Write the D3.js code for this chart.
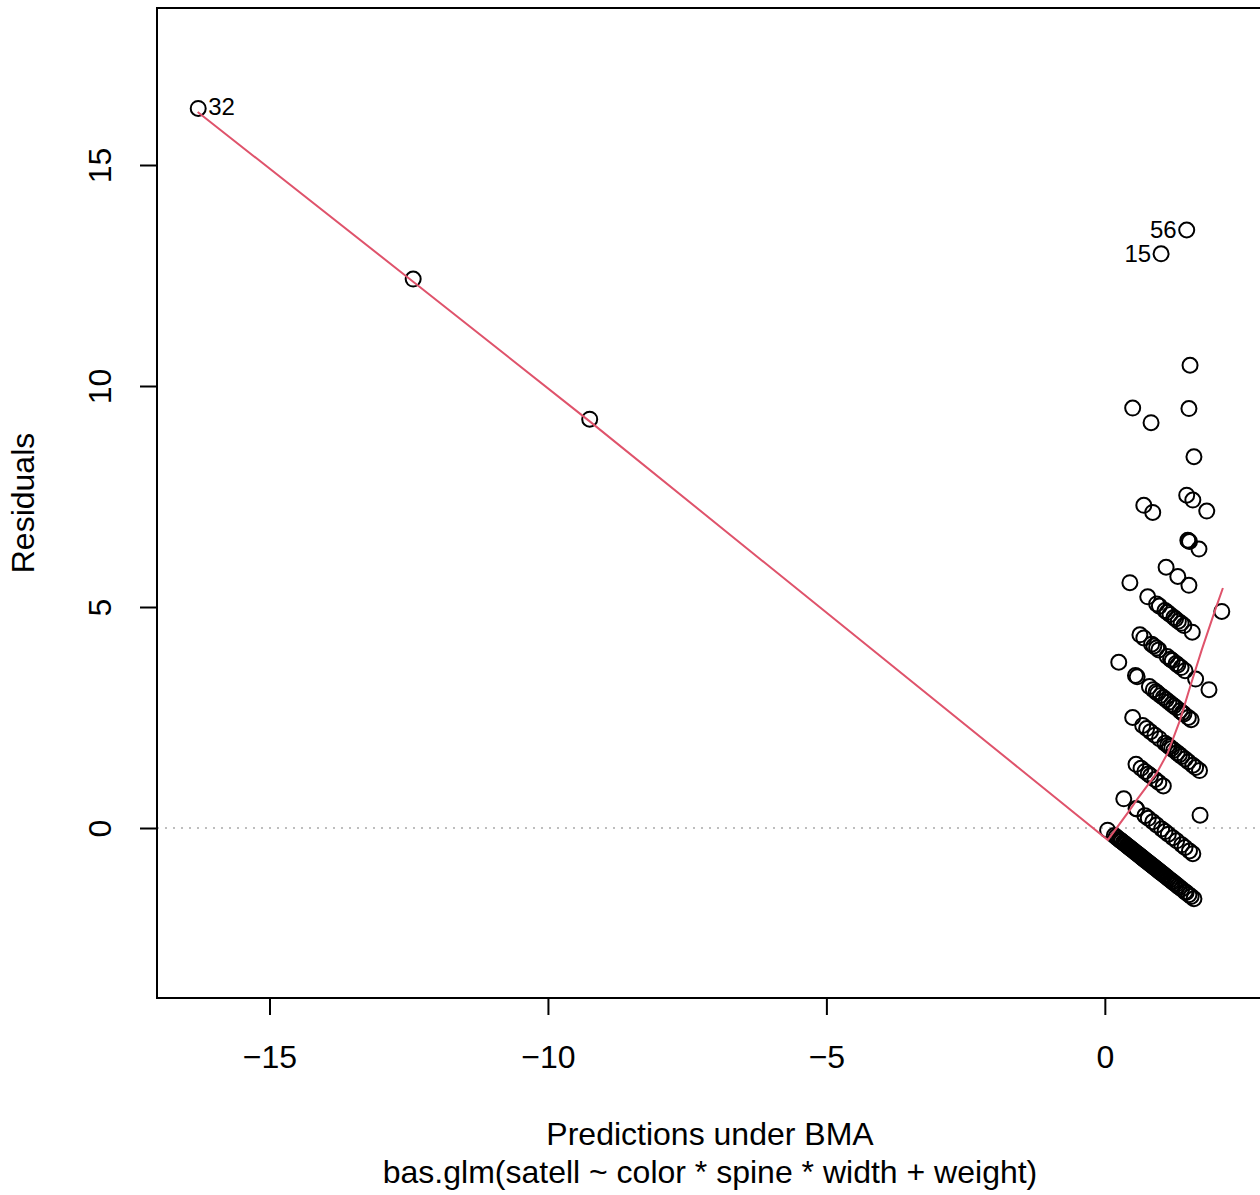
<!DOCTYPE html>
<html><head><meta charset="utf-8">
<script src="https://cdn.jsdelivr.net/npm/d3@7"></script>
<style>body{margin:0;background:#fff}svg{display:block}text{font-family:"Liberation Sans",Arial,sans-serif}</style>
</head><body>
<svg id="c" width="1260" height="1195"></svg>
<script>
// Predictions under BMA (x) and residuals (y)
const predictions = [
 -16.28, -12.42, -9.25,
 1.47, 1.01, 1.53, 1.51,
 0.50, 0.83, 1.60,
 1.47, 1.58, 1.83,
 0.70, 0.86, 1.49, 1.52, 1.50, 1.69,
 1.10, 1.31, 1.51, 2.10,
 0.45, 0.77, 0.93, 0.98, 1.08, 1.12, 1.17, 1.24, 1.27, 1.32, 1.37, 1.42, 1.57,
 0.63, 0.70, 0.84, 0.88, 0.93, 0.97, 1.12, 1.18, 1.21, 1.28, 1.31, 1.37, 1.44, 1.63, 1.87,
 0.25, 0.55, 0.58, 0.80, 0.87, 0.92, 0.95, 1.00, 1.05, 1.10, 1.15, 1.20, 1.24, 1.28, 1.35, 1.39, 1.42, 1.50, 1.55,
 0.50, 0.68, 0.75, 0.82, 0.90, 0.98, 1.08, 1.13, 1.16, 1.20, 1.24, 1.30, 1.34, 1.38, 1.44, 1.50, 1.58, 1.63, 1.70,
 0.56, 0.65, 0.72, 0.78, 0.82, 0.90, 0.97, 1.05, 1.71,
 0.34, 0.56, 0.57, 0.72, 0.78, 0.86, 0.93, 1.02, 1.08, 1.14, 1.22, 1.29, 1.38, 1.44, 1.52, 1.58,
 0.05, 0.17, 0.20, 0.23, 0.26, 0.28, 0.30, 0.33, 0.35, 0.37,
 0.40, 0.42, 0.44, 0.46, 0.48, 0.50, 0.52, 0.55, 0.57, 0.59,
 0.61, 0.63, 0.65, 0.67, 0.69, 0.71, 0.73, 0.75, 0.77, 0.79,
 0.81, 0.83, 0.85, 0.87, 0.89, 0.91, 0.93, 0.95, 0.97, 0.99,
 1.01, 1.03, 1.06, 1.08, 1.11, 1.14, 1.17, 1.20, 1.22, 1.25,
 1.28, 1.31, 1.34, 1.38, 1.44, 1.46, 1.51, 1.55, 1.60
];
const residuals = [
 16.28, 12.42, 9.25,
 13.53, 12.99, 10.47, 9.49,
 9.50, 9.17, 8.40,
 7.53, 7.42, 7.17,
 7.30, 7.14, 6.51, 6.48, 6.50, 6.31,
 5.90, 5.69, 5.49, 4.90,
 5.55, 5.23, 5.07, 5.02, 4.92, 4.88, 4.83, 4.76, 4.73, 4.68, 4.63, 4.58, 4.43,
 4.37, 4.30, 4.16, 4.12, 4.07, 4.03, 3.88, 3.82, 3.79, 3.72, 3.69, 3.63, 3.56, 3.37, 3.13,
 3.75, 3.45, 3.42, 3.20, 3.13, 3.08, 3.05, 3.00, 2.95, 2.90, 2.85, 2.80, 2.76, 2.72, 2.65, 2.61, 2.58, 2.50, 2.45,
 2.50, 2.32, 2.25, 2.18, 2.10, 2.02, 1.92, 1.87, 1.84, 1.80, 1.76, 1.70, 1.66, 1.62, 1.56, 1.50, 1.42, 1.37, 1.30,
 1.44, 1.35, 1.28, 1.22, 1.18, 1.10, 1.03, 0.95, 0.29,
 0.66, 0.44, 0.43, 0.28, 0.22, 0.14, 0.07, -0.02, -0.08, -0.14, -0.22, -0.29, -0.38, -0.44, -0.52, -0.58,
 -0.05, -0.17, -0.20, -0.23, -0.26, -0.28, -0.30, -0.33, -0.35, -0.37,
 -0.40, -0.42, -0.44, -0.46, -0.48, -0.50, -0.52, -0.55, -0.57, -0.59,
 -0.61, -0.63, -0.65, -0.67, -0.69, -0.71, -0.73, -0.75, -0.77, -0.79,
 -0.81, -0.83, -0.85, -0.87, -0.89, -0.91, -0.93, -0.95, -0.97, -0.99,
 -1.01, -1.03, -1.06, -1.08, -1.11, -1.14, -1.17, -1.20, -1.22, -1.25,
 -1.28, -1.31, -1.34, -1.38, -1.44, -1.46, -1.51, -1.55, -1.60
];
// labelled observations: [index into arrays, label, side]
const labelIds = [0, 3, 4];
const labelTexts = ["32", "56", "15"];
const labelSides = ["right", "left", "left"];
// smoothed (lowess) curve
const smoothX = [-16.29, -12.42, -9.25, 0.054, 0.45, 0.57, 0.93, 1.13, 1.35, 1.53, 1.74, 1.98, 2.12];
const smoothY = [16.2, 12.36, 9.2, -0.27, 0.41, 0.63, 1.24, 1.70, 2.44, 3.19, 4.03, 4.93, 5.43];
const xTicks = [-15, -10, -5, 0];
const yTicks = [0, 5, 10, 15];
const xTitle = "Predictions under BMA";
const subTitle = "bas.glm(satell ~ color * spine * width + weight)";
const yTitle = "Residuals";

const svg = d3.select("#c");
const L = 157, R = 1263, T = 8, B = 998;
const x = d3.scaleLinear().domain([-17.02, 2.84]).range([L, R]);
const y = d3.scaleLinear().domain([-3.846, 18.552]).range([B, T]);
const FS = 32;

// zero reference line
svg.append("line").attr("x1", L).attr("x2", R).attr("y1", y(0)).attr("y2", y(0))
  .attr("stroke", "#bebebe").attr("stroke-width", 2).attr("stroke-dasharray", "2,6");

// points
const pts = predictions.map((p, i) => [p, residuals[i]]);
svg.append("g").selectAll("circle").data(pts).join("circle")
  .attr("cx", d => x(d[0])).attr("cy", d => y(d[1])).attr("r", 7.5)
  .attr("fill", "none").attr("stroke", "#000").attr("stroke-width", 2);

// smooth line
const sm = smoothX.map((v, i) => [v, smoothY[i]]);
svg.append("path").datum(sm)
  .attr("d", d3.line().x(d => x(d[0])).y(d => y(d[1])))
  .attr("fill", "none").attr("stroke", "#DF536B").attr("stroke-width", 2);

// labels
labelIds.forEach((id, k) => {
  const px = x(predictions[id]), py = y(residuals[id]);
  svg.append("text").attr("x", labelSides[k] === "right" ? px + 10 : px - 10)
    .attr("y", py - (labelSides[k] === "right" ? 2 : 0)).attr("dy", "0.35em")
    .attr("text-anchor", labelSides[k] === "right" ? "start" : "end")
    .attr("font-size", 24).text(labelTexts[k]);
});

// box
svg.append("rect").attr("x", L).attr("y", T).attr("width", R - L).attr("height", B - T)
  .attr("fill", "none").attr("stroke", "#000").attr("stroke-width", 2);

// axes
const xa = svg.append("g").attr("transform", `translate(0,${B})`)
  .call(d3.axisBottom(x).tickValues(xTicks).tickSize(17).tickPadding(30).tickFormat(d => d3.format("")(d).replace("-", "\u2212")));
xa.select(".domain").attr("d", `M${x(xTicks[0])},0H${x(xTicks[xTicks.length-1])}`).attr("stroke-width", 2);
xa.selectAll(".tick line").attr("stroke-width", 2);
xa.selectAll("text").attr("font-size", FS).attr("font-family", "Liberation Sans, Arial, sans-serif");

const ya = svg.append("g").attr("transform", `translate(${L},0)`)
  .call(d3.axisLeft(y).tickValues(yTicks).tickSize(17).tickPadding(0).tickFormat(d3.format("")));
ya.select(".domain").attr("d", `M0,${y(yTicks[0])}V${y(yTicks[yTicks.length-1])}`).attr("stroke-width", 2);
ya.selectAll(".tick line").attr("stroke-width", 2);
ya.selectAll(".tick text").attr("font-size", FS).attr("font-family", "Liberation Sans, Arial, sans-serif")
  .attr("x", -57).attr("dy", 0).attr("text-anchor", "middle")
  .attr("transform", "rotate(-90,-57,0)").attr("y", 0)
  .each(function() { d3.select(this).attr("dominant-baseline", "central"); });

// titles
svg.append("text").attr("x", (L + R) / 2).attr("y", 1145).attr("text-anchor", "middle")
  .attr("font-size", FS).text(xTitle);
svg.append("text").attr("x", (L + R) / 2).attr("y", 1183).attr("text-anchor", "middle")
  .attr("font-size", FS).text(subTitle);
svg.append("text").attr("transform", `translate(34,${(T + B) / 2}) rotate(-90)`)
  .attr("text-anchor", "middle").attr("font-size", FS).text(yTitle);
</script>
</body></html>
